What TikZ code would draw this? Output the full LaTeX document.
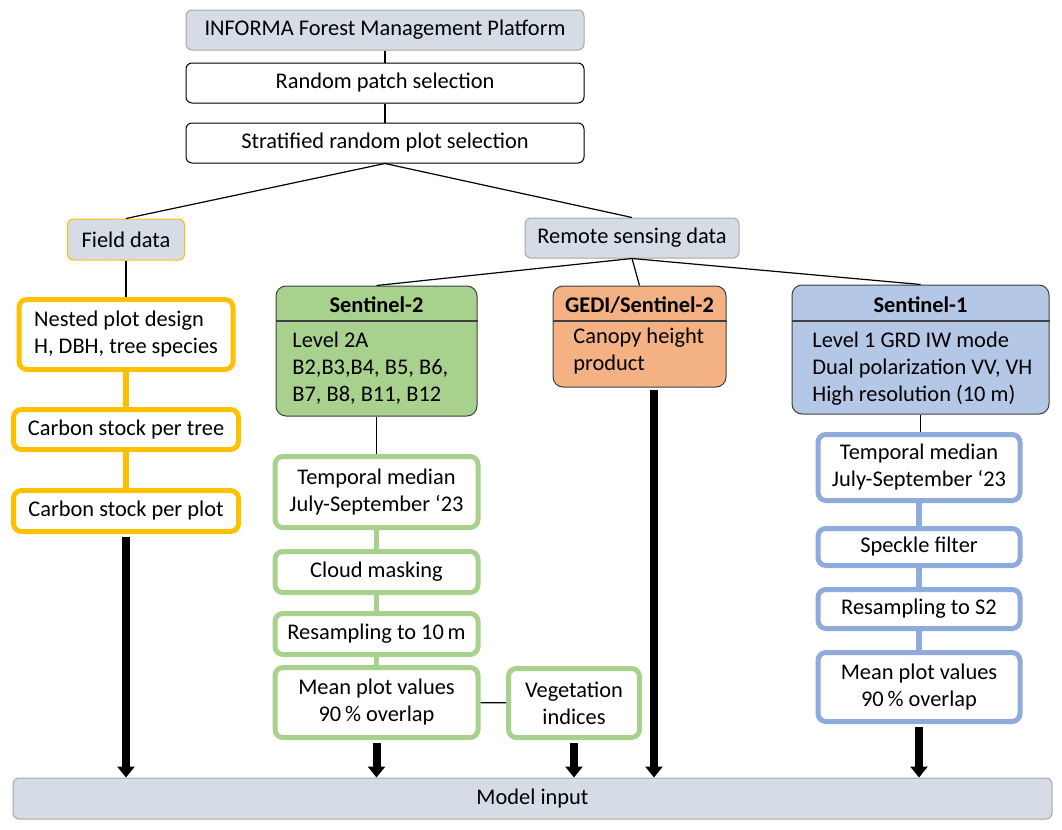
\documentclass[tikz,border=0pt]{standalone}
\usepackage{fontspec}
\setmainfont{Carlito}
\usetikzlibrary{arrows.meta}

\definecolor{boxgrey}{HTML}{D6DCE5}
\definecolor{edgegrey}{HTML}{A6A6A6}
\definecolor{fieldorange}{HTML}{FFC000}
\definecolor{s2green}{HTML}{A9D18E}
\definecolor{gediorange}{HTML}{F4B183}
\definecolor{s1fill}{HTML}{B4C7E7}
\definecolor{s1edge}{HTML}{8FAADC}

\tikzset{
  every node/.style={font=\fontsize{11.2}{13.5}\selectfont},
  greybox/.style={draw=edgegrey, fill=boxgrey, rounded corners=3pt, line width=0.5pt},
  plainbox/.style={draw=black, fill=white, rounded corners=3pt, line width=0.5pt},
  stepbox/.style={draw=#1, fill=white, rounded corners=4pt, line width=2.5pt, align=center},
  headbox/.style={draw=black!75, fill=#1, rounded corners=5pt, line width=0.5pt},
  link/.style={draw=black, line width=0.6pt},
  steplink/.style={draw=#1, line width=2.8pt},
  feed/.style={draw=black, line width=4pt, shorten <=1.3pt, -{Triangle[width=8.5pt,length=5.5pt]}},
}

\begin{document}
\begin{tikzpicture}[x=0.5pt,y=-0.5pt]
\useasboundingbox (0,0) rectangle (1062,830);

% sampling
\node[greybox, minimum width=199pt, minimum height=20pt] (platform) at (385,30) {INFORMA Forest Management Platform};
\node[plainbox, minimum width=199pt, minimum height=20pt] (patch) at (385,83) {Random patch selection};
\node[plainbox, minimum width=199pt, minimum height=20pt] (strat) at (385,143) {Stratified random plot selection};
\draw[link] (platform) -- (patch);
\draw[link] (patch) -- (strat);

\node[greybox, draw=fieldorange, minimum width=58.5pt, minimum height=20.5pt] (field) at (126,239.5) {Field data};
\node[greybox, minimum width=107pt, minimum height=20pt] (remote) at (632,238) {Remote sensing data};
\draw[link] (strat.south) -- (field.north);
\draw[link] (strat.south) -- (remote.north);

% field data
\node[stepbox=fieldorange, minimum width=107pt, minimum height=35pt, align=left] (nested) at (126,334.5) {Nested plot design\\H, DBH, tree species};
\node[stepbox=fieldorange, minimum width=112.5pt, minimum height=20pt] (ctree) at (126,429.5) {Carbon stock per tree};
\node[stepbox=fieldorange, minimum width=112.5pt, minimum height=20.5pt] (cplot) at (126,511) {Carbon stock per plot};
\draw[link] (field) -- (nested);
\draw[steplink=fieldorange] (nested) -- (ctree);
\draw[steplink=fieldorange] (ctree) -- (cplot);

% sensors (body text sits on the baseline of its last line)
\node[headbox=s2green, minimum width=100.5pt, minimum height=65pt] (s2) at (376.5,351) {};
\node (s2 title) at (376.5,305) {\textbf{Sentinel-2}};
\draw[link, draw=black!75] (s2.west |- 0,321) -- (s2.east |- 0,321);
\node[anchor=base west, align=left, inner sep=0pt] (s2 body) at (292,401) {Level 2A\\B2,B3,B4, B5, B6,\\B7, B8, B11, B12};

\node[headbox=gediorange, minimum width=86.5pt, minimum height=50.5pt] (gedi) at (639.5,336.5) {};
\node (gedi title) at (639.5,305) {\textbf{GEDI/Sentinel-2}};
\draw[link, draw=black!75] (gedi.west |- 0,321) -- (gedi.east |- 0,321);
\node[anchor=base west, align=left, inner sep=0pt] (gedi body) at (573,370) {Canopy height\\product};

\node[headbox=s1fill, minimum width=128.5pt, minimum height=64.5pt] (s1) at (920.5,349.5) {};
\node (s1 title) at (920.5,305) {\textbf{Sentinel-1}};
\draw[link, draw=black!75] (s1.west |- 0,321) -- (s1.east |- 0,321);
\node[anchor=base west, align=left, inner sep=0pt] (s1 body) at (812,401) {Level 1 GRD IW mode\\Dual polarization VV, VH\\High resolution (10 m)};

\draw[link] (remote.south) -- (s2.north);
\draw[link] (remote.south) -- (gedi.north);
\draw[link] (remote.south) -- (s1.north);

% sentinel-2 steps
\node[stepbox=s2green, minimum width=101.5pt, minimum height=35.5pt] (s2 median) at (376.5,492) {Temporal median\\July-September ‘23};
\node[stepbox=s2green, minimum width=101.5pt, minimum height=20.5pt] (s2 cloud) at (376.5,572) {Cloud masking};
\node[stepbox=s2green, minimum width=101.5pt, minimum height=20.5pt] (s2 resample) at (376.5,634) {Resampling to 10\,m};
\node[stepbox=s2green, minimum width=101.5pt, minimum height=35pt] (s2 mean) at (376.5,702.5) {Mean plot values\\90\,\% overlap};
\node[stepbox=s2green, minimum width=65.5pt, minimum height=34.5pt] (vegetation) at (574,703) {Vegetation\\indices};
\draw[link] (s2) -- (s2 median);
\draw[steplink=s2green] (s2 median) -- (s2 cloud);
\draw[steplink=s2green] (s2 cloud) -- (s2 resample);
\draw[steplink=s2green] (s2 resample) -- (s2 mean);
\draw[link] (s2 mean) -- (vegetation);

% sentinel-1 steps
\node[stepbox=s1edge, minimum width=101pt, minimum height=33pt] (s1 median) at (919,467.5) {Temporal median\\July-September ‘23};
\node[stepbox=s1edge, minimum width=101pt, minimum height=18.5pt] (s1 speckle) at (919,547) {Speckle filter};
\node[stepbox=s1edge, minimum width=101pt, minimum height=19.5pt] (s1 resample) at (919,609) {Resampling to S2};
\node[stepbox=s1edge, minimum width=101pt, minimum height=34.5pt] (s1 mean) at (919,687) {Mean plot values\\90\,\% overlap};
\draw[link] (s1.south) -- (s1.south |- s1 median.north);
\draw[steplink=s1edge] (s1 median) -- (s1 speckle);
\draw[steplink=s1edge] (s1 speckle) -- (s1 resample);
\draw[steplink=s1edge] (s1 resample) -- (s1 mean);

% model input
\node[greybox, minimum width=519.5pt, minimum height=20.5pt] (model) at (532.5,798.5) {Model input};
\draw[feed] (cplot) -- (cplot |- model.north);
\draw[feed] (s2 mean) -- (s2 mean |- model.north);
\draw[feed] (vegetation) -- (vegetation |- model.north);
\draw[feed] ([xshift=7.25pt]gedi.south) -- ([xshift=7.25pt]gedi.south |- model.north);
\draw[feed] (s1 mean) -- (s1 mean |- model.north);
\end{tikzpicture}
\end{document}
